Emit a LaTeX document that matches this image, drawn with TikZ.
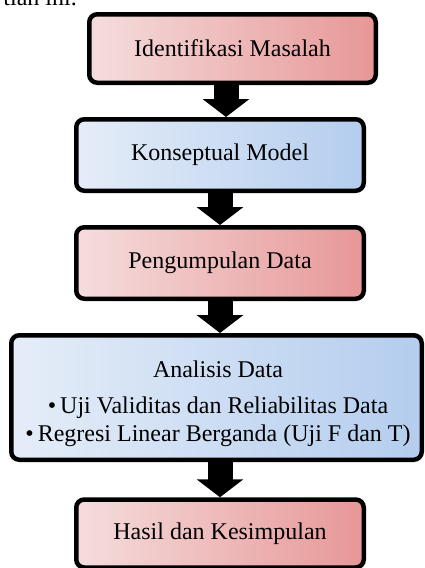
\documentclass[tikz,border=0pt]{standalone}
\usepackage{fontspec}
\setmainfont{Liberation Serif}
\usetikzlibrary{arrows.meta}
\definecolor{pinkL}{HTML}{F5DDDD}
\definecolor{pinkR}{HTML}{E79797}
\definecolor{blueL}{HTML}{E5EDF8}
\definecolor{blueR}{HTML}{B4CDEE}
\tikzset{
  stagefont/.style={font=\fontsize{24}{28}\selectfont},
  stage/.style={draw=black, line width=4.5pt, rounded corners=8pt,
    inner sep=0pt, align=center, stagefont},
  pinkstage/.style={stage, left color=pinkL, right color=pinkR},
  bluestage/.style={stage, left color=blueL, right color=blueR},
  blockarrow/.style={draw=black, line width=25pt,
    -{Triangle[length=18pt 0 0, width=46pt 0 0]}},
}
\begin{document}
\begin{tikzpicture}[x=1pt, y=-1pt]
  \clip (0,0) rectangle (425,568);
  \useasboundingbox (0,0) rectangle (425,568);

  % tail of the sentence before the chart
  \node[anchor=base east, inner sep=0pt, stagefont]
    (lead) at (77,5) {tian ini.};

  % stages
  \node[pinkstage, minimum width=286.5pt, minimum height=68.5pt]
    (s1) at (232.5,48.5) {Identifikasi Masalah};
  \node[bluestage, minimum width=287.5pt, minimum height=71.5pt]
    (s2) at (220,155) {Konseptual Model};
  \node[pinkstage, minimum width=287.5pt, minimum height=71.5pt]
    (s3) at (220,263) {Pengumpulan Data};
  \node[bluestage, minimum width=410.5pt, minimum height=124.5pt]
    (s4) at (216.5,397.5) {};
  \node[align=center, inner sep=0pt, stagefont] (s4text) at (218,404)
    {Analisis Data\\[8pt]
     \textbullet\,Uji Validitas dan Reliabilitas Data\\
     \textbullet\,Regresi Linear Berganda (Uji F dan T)};
  \node[pinkstage, minimum width=287.5pt, minimum height=68pt]
    (s5) at (220,533.5) {Hasil dan Kesimpulan};

  % arrow columns
  \coordinate (c1) at (226,0);
  \coordinate (c2) at (220,0);

  % block arrows between stages
  \draw[blockarrow] (s1.south -| c1) -- (s2.north -| c1);
  \draw[blockarrow] (s2.south -| c2) -- (s3.north -| c2);
  \draw[blockarrow] (s3.south -| c2) -- (s4.north -| c2);
  \draw[blockarrow] (s4.south -| c2) -- (s5.north -| c2);
\end{tikzpicture}
\end{document}
